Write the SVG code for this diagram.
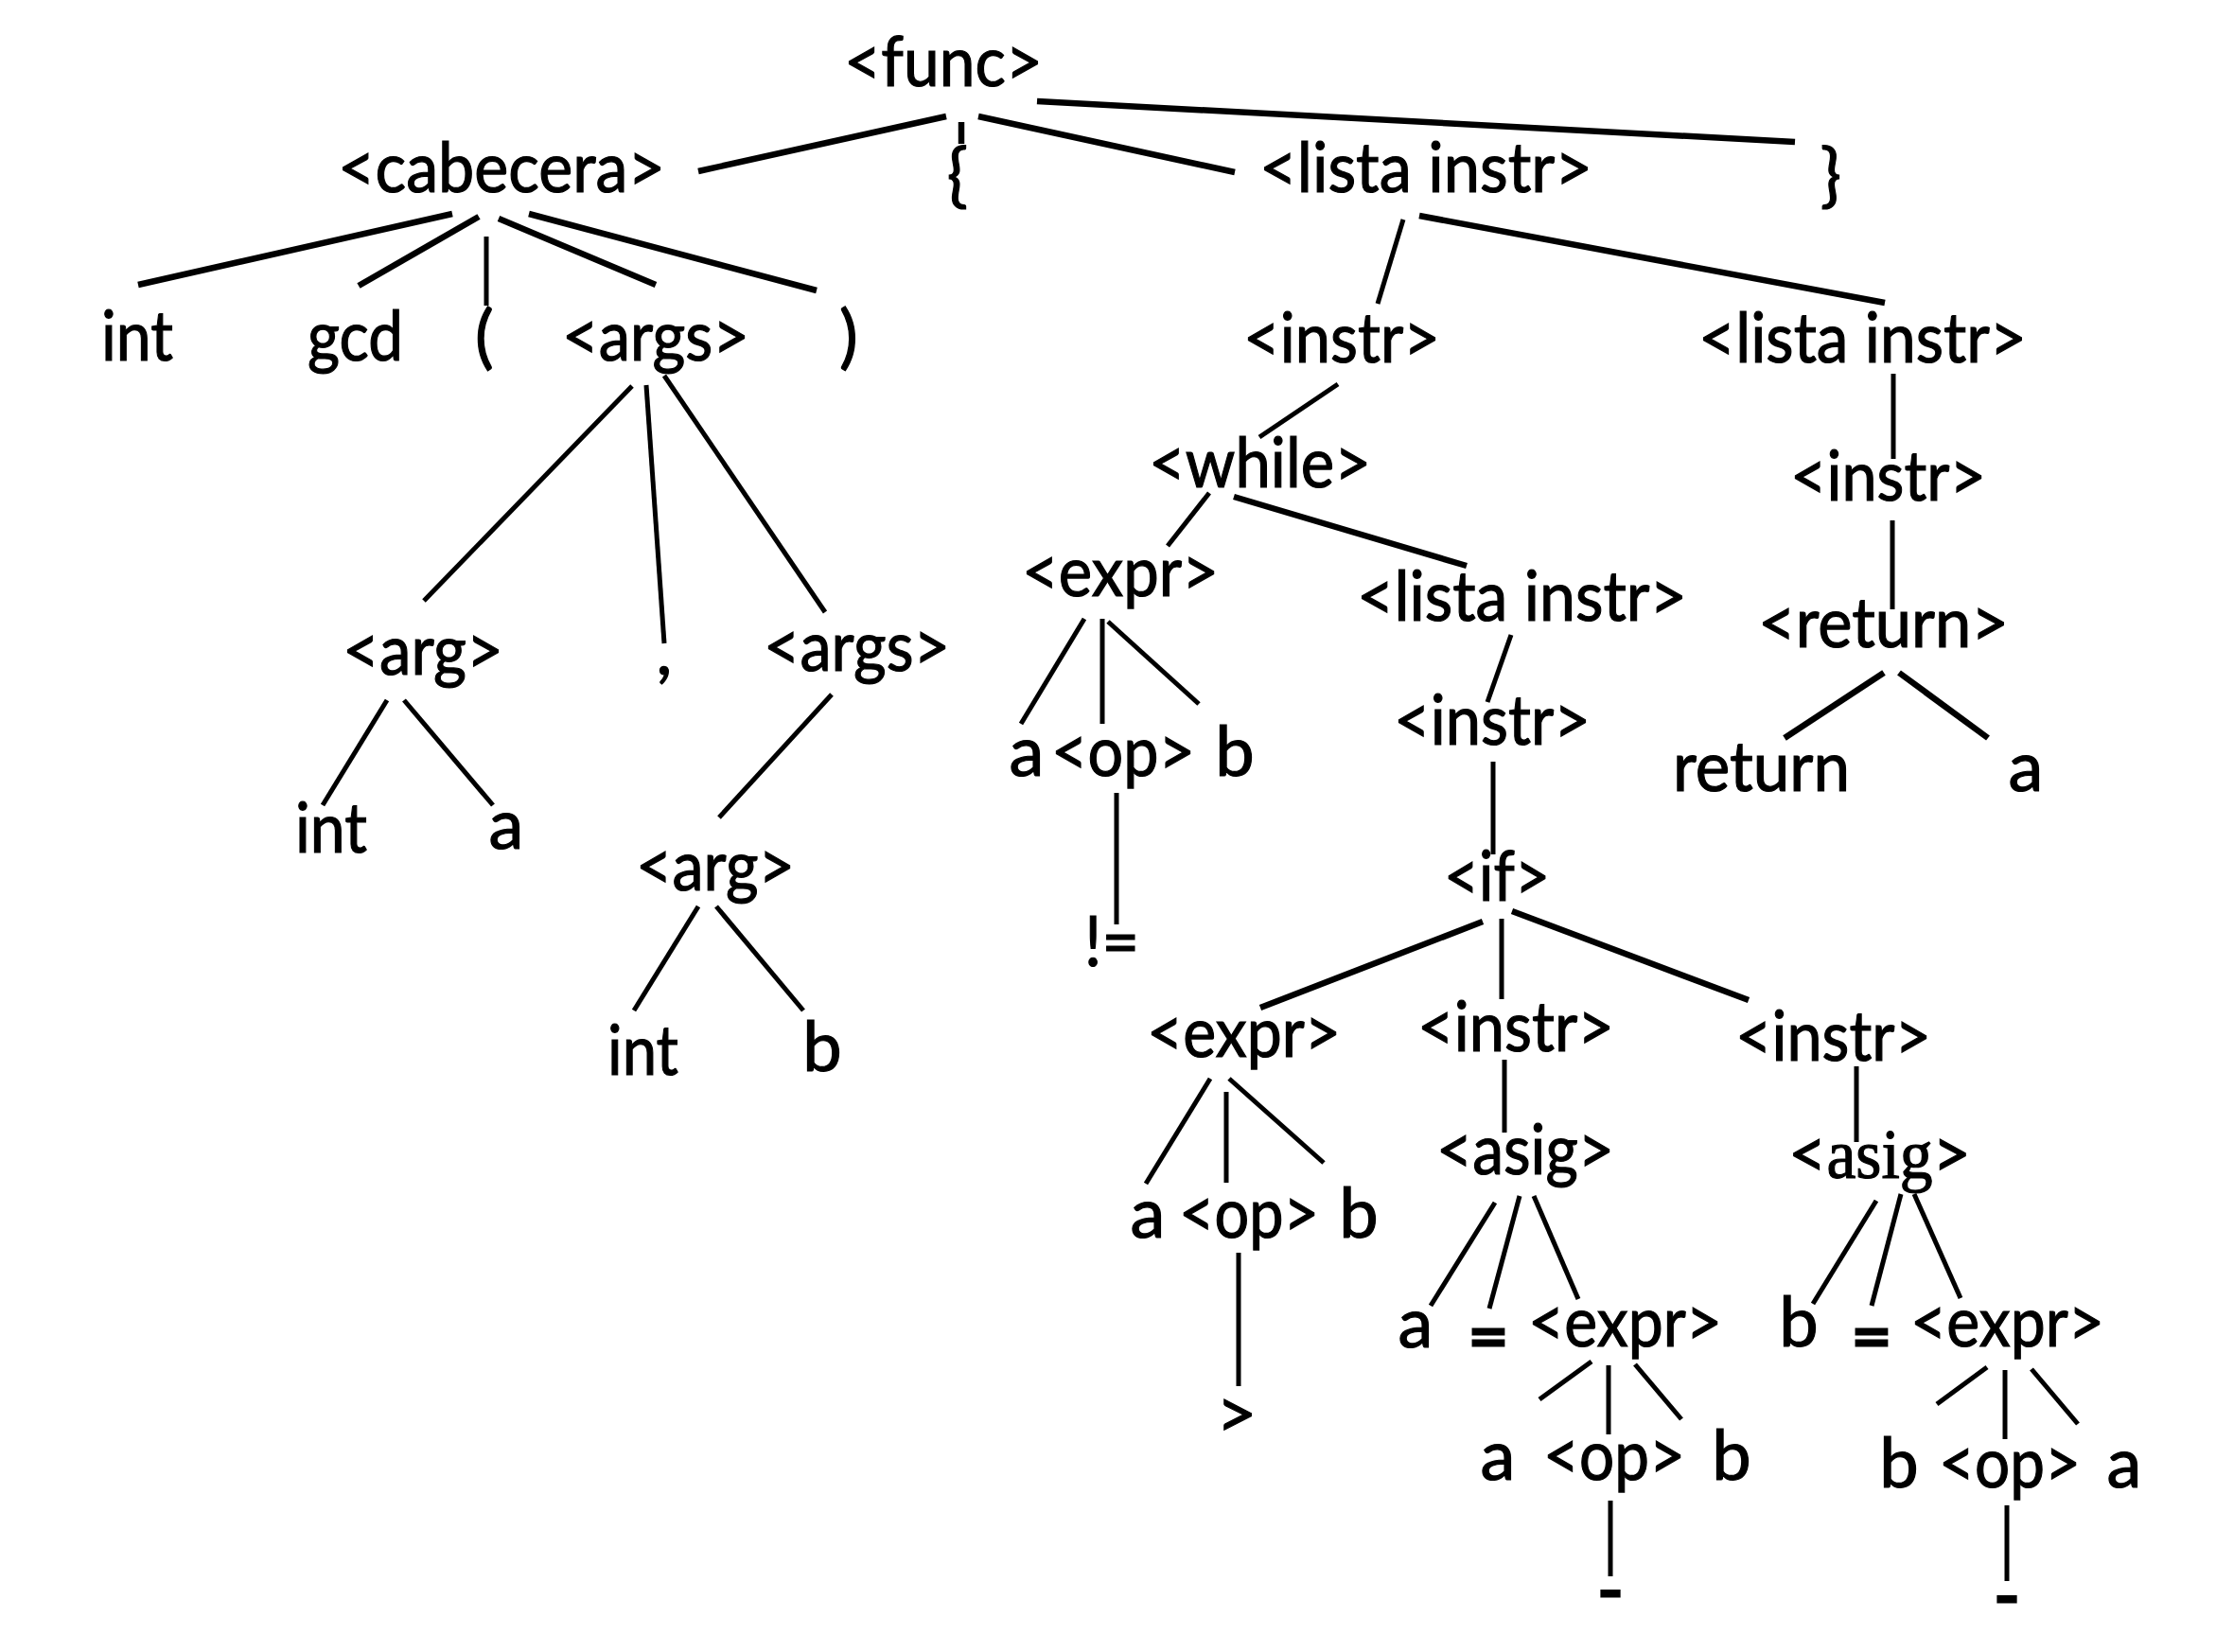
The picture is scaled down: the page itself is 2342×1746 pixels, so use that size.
<svg xmlns="http://www.w3.org/2000/svg" width="2342" height="1746" viewBox="0 0 2342 1746">
<style>
text{font-family:Lato,"Noto Sans","Liberation Sans",sans-serif;font-size:74px;fill:#000;stroke:#000;stroke-width:1.2}
.m{text-anchor:middle}
.serif{font-family:"Liberation Serif","DejaVu Serif",serif}
line{stroke:#000;stroke-linecap:butt}
.k{stroke-width:6.5}
.t{stroke-width:5}
</style>
<rect width="2342" height="1746" fill="#fff"/>
<g id="connectors">
<line class="k" x1="738" y1="181" x2="1000" y2="123"/>
<line class="k" x1="1016" y1="129" x2="1016" y2="152"/>
<line class="k" x1="1034" y1="123" x2="1305" y2="182"/>
<line class="k" x1="1096" y1="107" x2="1897" y2="150"/>
<line class="k" x1="478" y1="226" x2="146" y2="301"/>
<line class="k" x1="506" y1="229" x2="379" y2="302"/>
<line class="t" x1="514" y1="250" x2="514" y2="323"/>
<line class="k" x1="527" y1="231" x2="693" y2="301"/>
<line class="k" x1="559" y1="226" x2="863" y2="307"/>
<line class="t" x1="668" y1="408" x2="448" y2="635"/>
<line class="t" x1="683" y1="407" x2="702" y2="680"/>
<line class="t" x1="702" y1="397" x2="872" y2="647"/>
<line class="t" x1="409" y1="740" x2="341" y2="851"/>
<line class="t" x1="427" y1="740" x2="521" y2="851"/>
<line class="t" x1="879" y1="734" x2="760" y2="864"/>
<line class="t" x1="738" y1="958" x2="670" y2="1068"/>
<line class="t" x1="757" y1="958" x2="849" y2="1068"/>
<line class="t" x1="1483" y1="232" x2="1456" y2="321"/>
<line class="k" x1="1500" y1="228" x2="1992" y2="320"/>
<line class="t" x1="1414" y1="406" x2="1331" y2="462"/>
<line class="t" x1="2001" y1="395" x2="2001" y2="485"/>
<line class="t" x1="2000" y1="550" x2="2000" y2="644"/>
<line class="t" x1="1278" y1="521" x2="1234" y2="577"/>
<line class="k" x1="1304" y1="525" x2="1550" y2="598"/>
<line class="t" x1="1146" y1="654" x2="1079" y2="765"/>
<line class="t" x1="1165" y1="654" x2="1165" y2="765"/>
<line class="t" x1="1171" y1="657" x2="1267" y2="744"/>
<line class="t" x1="1180" y1="838" x2="1180" y2="977"/>
<line class="t" x1="1597" y1="671" x2="1572" y2="742"/>
<line class="t" x1="1578" y1="805" x2="1578" y2="903"/>
<line class="k" x1="1991" y1="711" x2="1886" y2="780"/>
<line class="k" x1="2007" y1="711" x2="2101" y2="780"/>
<line class="k" x1="1567" y1="974" x2="1332" y2="1065"/>
<line class="t" x1="1587" y1="971" x2="1587" y2="1056"/>
<line class="k" x1="1598" y1="963" x2="1848" y2="1057"/>
<line class="t" x1="1279" y1="1140" x2="1211" y2="1251"/>
<line class="t" x1="1296" y1="1154" x2="1296" y2="1250"/>
<line class="t" x1="1299" y1="1140" x2="1399" y2="1229"/>
<line class="t" x1="1309" y1="1324" x2="1309" y2="1465"/>
<line class="t" x1="1590" y1="1120" x2="1590" y2="1197"/>
<line class="t" x1="1962" y1="1127" x2="1962" y2="1207"/>
<line class="t" x1="1580" y1="1271" x2="1512" y2="1380"/>
<line class="t" x1="1606" y1="1264" x2="1574" y2="1383"/>
<line class="t" x1="1621" y1="1264" x2="1668" y2="1373"/>
<line class="t" x1="1682" y1="1439" x2="1627" y2="1479"/>
<line class="t" x1="1700" y1="1443" x2="1700" y2="1516"/>
<line class="t" x1="1728" y1="1442" x2="1777" y2="1500"/>
<line class="t" x1="1702" y1="1586" x2="1702" y2="1666"/>
<line class="t" x1="1983" y1="1269" x2="1916" y2="1378"/>
<line class="t" x1="2009" y1="1262" x2="1978" y2="1380"/>
<line class="t" x1="2023" y1="1262" x2="2072" y2="1372"/>
<line class="t" x1="2100" y1="1445" x2="2047" y2="1484"/>
<line class="t" x1="2119" y1="1448" x2="2119" y2="1521"/>
<line class="t" x1="2147" y1="1447" x2="2196" y2="1505"/>
<line class="t" x1="2121" y1="1591" x2="2121" y2="1671"/>
</g>
<g id="n-func"><text x="892" y="91" textLength="210" lengthAdjust="spacingAndGlyphs">&lt;func&gt;</text></g>
<g id="n-cabecera"><text x="357" y="203" textLength="346" lengthAdjust="spacingAndGlyphs">&lt;cabecera&gt;</text></g>
<g id="n-lbrace"><text class="m" x="1012" y="210">{</text></g>
<g id="n-lista1"><text x="1331" y="203" textLength="352" lengthAdjust="spacingAndGlyphs">&lt;lista instr&gt;</text></g>
<g id="n-rbrace"><text class="m" x="1935" y="210">}</text></g>
<g id="n-int1"><text x="107" y="381" textLength="76" lengthAdjust="spacingAndGlyphs">int</text></g>
<g id="n-gcd"><text x="325" y="381" textLength="101" lengthAdjust="spacingAndGlyphs">gcd</text></g>
<g id="n-lparen"><text class="m" x="512" y="381">(</text></g>
<g id="n-args1"><text x="594" y="381" textLength="198" lengthAdjust="spacingAndGlyphs">&lt;args&gt;</text></g>
<g id="n-rparen"><text class="m" x="897" y="381">)</text></g>
<g id="n-instr1"><text x="1314" y="383" textLength="208" lengthAdjust="spacingAndGlyphs">&lt;instr&gt;</text></g>
<g id="n-lista2"><text x="1795" y="383" textLength="347" lengthAdjust="spacingAndGlyphs">&lt;lista instr&gt;</text></g>
<g id="n-while"><text x="1214" y="515" textLength="235" lengthAdjust="spacingAndGlyphs">&lt;while&gt;</text></g>
<g id="n-instr2"><text x="1892" y="529" textLength="207" lengthAdjust="spacingAndGlyphs">&lt;instr&gt;</text></g>
<g id="n-expr1"><text x="1080" y="630" textLength="208" lengthAdjust="spacingAndGlyphs">&lt;expr&gt;</text></g>
<g id="n-lista3"><text x="1434" y="656" textLength="349" lengthAdjust="spacingAndGlyphs">&lt;lista instr&gt;</text></g>
<g id="n-return"><text x="1858" y="684" textLength="265" lengthAdjust="spacingAndGlyphs">&lt;return&gt;</text></g>
<g id="n-arg1"><text x="362" y="713" textLength="170" lengthAdjust="spacingAndGlyphs">&lt;arg&gt;</text></g>
<g id="n-comma"><text class="m" x="702" y="713">,</text></g>
<g id="n-args2"><text x="807" y="709" textLength="197" lengthAdjust="spacingAndGlyphs">&lt;args&gt;</text></g>
<g id="n-instr3"><text x="1473" y="787" textLength="208" lengthAdjust="spacingAndGlyphs">&lt;instr&gt;</text></g>
<g id="n-e1a"><text class="m" x="1085" y="820">a</text></g>
<g id="n-e1op"><text x="1111" y="820" textLength="152" lengthAdjust="spacingAndGlyphs">&lt;op&gt;</text></g>
<g id="n-e1b"><text class="m" x="1305" y="820">b</text></g>
<g id="n-return-kw"><text x="1768" y="836" textLength="187" lengthAdjust="spacingAndGlyphs">return</text></g>
<g id="n-return-a"><text class="m" x="2141" y="836">a</text></g>
<g id="n-int2"><text x="312" y="901" textLength="76" lengthAdjust="spacingAndGlyphs">int</text></g>
<g id="n-a1"><text class="m" x="535" y="897">a</text></g>
<g id="n-arg2"><text x="672" y="941" textLength="168" lengthAdjust="spacingAndGlyphs">&lt;arg&gt;</text></g>
<g id="n-if"><text x="1526" y="952" textLength="112" lengthAdjust="spacingAndGlyphs">&lt;if&gt;</text></g>
<g id="n-neq"><text x="1146" y="1021" textLength="58" lengthAdjust="spacingAndGlyphs">!=</text></g>
<g id="n-expr2"><text x="1212" y="1117" textLength="205" lengthAdjust="spacingAndGlyphs">&lt;expr&gt;</text></g>
<g id="n-instr4"><text x="1498" y="1111" textLength="208" lengthAdjust="spacingAndGlyphs">&lt;instr&gt;</text></g>
<g id="n-instr5"><text x="1834" y="1121" textLength="207" lengthAdjust="spacingAndGlyphs">&lt;instr&gt;</text></g>
<g id="n-int3"><text x="642" y="1136" textLength="75" lengthAdjust="spacingAndGlyphs">int</text></g>
<g id="n-b1"><text class="m" x="869" y="1132">b</text></g>
<g id="n-asig1"><text x="1518" y="1241" textLength="188" lengthAdjust="spacingAndGlyphs">&lt;asig&gt;</text></g>
<g id="n-asig2"><text x="1890" y="1245" textLength="193" lengthAdjust="spacingAndGlyphs">&lt;<tspan class="serif">asig</tspan>&gt;</text></g>
<g id="n-e2a"><text class="m" x="1213" y="1308">a</text></g>
<g id="n-e2op"><text x="1246" y="1308" textLength="148" lengthAdjust="spacingAndGlyphs">&lt;op&gt;</text></g>
<g id="n-e2b"><text class="m" x="1436" y="1308">b</text></g>
<g id="n-a2"><text class="m" x="1496" y="1424">a</text></g>
<g id="n-eq1"><text class="m" x="1573" y="1438" style="stroke-width:3">=</text></g>
<g id="n-expr3"><text x="1615" y="1423" textLength="205" lengthAdjust="spacingAndGlyphs">&lt;expr&gt;</text></g>
<g id="n-b2"><text class="m" x="1901" y="1423">b</text></g>
<g id="n-eq2"><text class="m" x="1978" y="1438" style="stroke-width:3">=</text></g>
<g id="n-expr4"><text x="2019" y="1423" textLength="205" lengthAdjust="spacingAndGlyphs">&lt;expr&gt;</text></g>
<g id="n-gt"><text class="m" x="1307" y="1520">&gt;</text></g>
<g id="n-e3a"><text class="m" x="1583" y="1564">a</text></g>
<g id="n-e3op"><text x="1631" y="1564" textLength="150" lengthAdjust="spacingAndGlyphs">&lt;op&gt;</text></g>
<g id="n-e3b"><text class="m" x="1830" y="1564">b</text></g>
<g id="n-e4b"><text class="m" x="2007" y="1572">b</text></g>
<g id="n-e4op"><text x="2049" y="1572" textLength="150" lengthAdjust="spacingAndGlyphs">&lt;op&gt;</text></g>
<g id="n-e4a"><text class="m" x="2245" y="1572">a</text></g>
<g id="n-minus1"><text class="m" x="1702" y="1706" style="stroke-width:3">-</text></g>
<g id="n-minus2"><text class="m" x="2121" y="1712" style="stroke-width:3">-</text></g>
</svg>
